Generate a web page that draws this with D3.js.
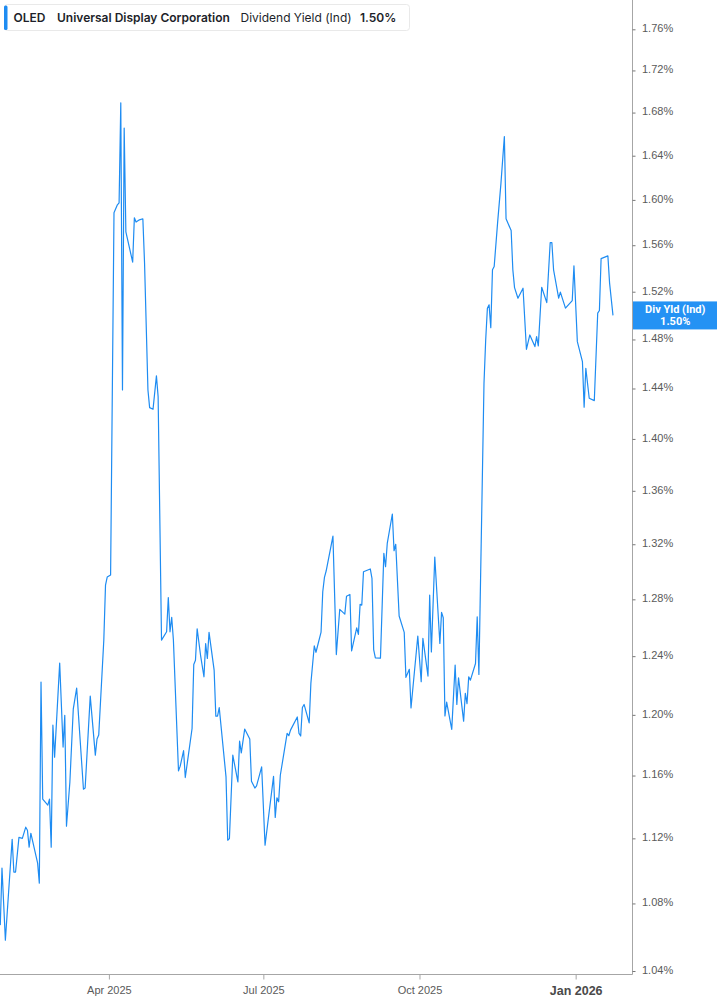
<!DOCTYPE html>
<html>
<head>
<meta charset="utf-8">
<script src="https://cdn.jsdelivr.net/npm/d3@7"></script>
<style>
  body { margin: 0; background: #fff; }
  svg { display: block; font-family: Roboto, "Noto Sans", sans-serif; }
  .legend-text { font-family: Inter, Roboto, sans-serif; }
</style>
</head>
<body>
<svg id="chart" width="717" height="1005"></svg>
<script>
// dividend yield (ind), %
const dates = [
  "2025-01-27","2025-01-28","2025-01-30","2025-02-03","2025-02-04","2025-02-05","2025-02-07","2025-02-09",
  "2025-02-11","2025-02-12","2025-02-13","2025-02-14","2025-02-18","2025-02-19","2025-02-20","2025-02-21",
  "2025-02-24","2025-02-25","2025-02-26","2025-02-27","2025-02-28","2025-03-03","2025-03-05","2025-03-06",
  "2025-03-07","2025-03-09","2025-03-11","2025-03-13","2025-03-17","2025-03-18","2025-03-21","2025-03-24",
  "2025-03-25","2025-03-26","2025-03-29","2025-03-30","2025-03-31","2025-04-02","2025-04-04","2025-04-06",
  "2025-04-07","2025-04-08","2025-04-09","2025-04-10","2025-04-11","2025-04-15","2025-04-16","2025-04-17",
  "2025-04-19","2025-04-21","2025-04-22","2025-04-24","2025-04-25","2025-04-27","2025-04-29","2025-04-30",
  "2025-05-02","2025-05-05","2025-05-06","2025-05-07","2025-05-08","2025-05-09","2025-05-12","2025-05-13",
  "2025-05-15","2025-05-16","2025-05-20","2025-05-21","2025-05-22","2025-05-23","2025-05-25","2025-05-27",
  "2025-05-28","2025-05-29","2025-05-30","2025-06-02","2025-06-03","2025-06-04","2025-06-05","2025-06-09",
  "2025-06-10","2025-06-11","2025-06-13","2025-06-16","2025-06-17","2025-06-18","2025-06-20","2025-06-23",
  "2025-06-24","2025-06-26","2025-06-27","2025-06-30","2025-07-02","2025-07-07","2025-07-08","2025-07-09",
  "2025-07-10","2025-07-11","2025-07-15","2025-07-16","2025-07-17","2025-07-21","2025-07-22","2025-07-23",
  "2025-07-24","2025-07-25","2025-07-28","2025-07-29","2025-07-31","2025-08-01","2025-08-04","2025-08-05",
  "2025-08-06","2025-08-07","2025-08-11","2025-08-13","2025-08-15","2025-08-18","2025-08-19","2025-08-21",
  "2025-08-22","2025-08-25","2025-08-26","2025-08-27","2025-08-28","2025-08-29","2025-09-02","2025-09-03",
  "2025-09-04","2025-09-05","2025-09-08","2025-09-10","2025-09-11","2025-09-12","2025-09-15","2025-09-16",
  "2025-09-17","2025-09-19","2025-09-22","2025-09-23","2025-09-25","2025-09-26","2025-09-30","2025-10-02",
  "2025-10-03","2025-10-06","2025-10-07","2025-10-08","2025-10-10","2025-10-13","2025-10-14","2025-10-15",
  "2025-10-16","2025-10-17","2025-10-20","2025-10-22","2025-10-23","2025-10-24","2025-10-27","2025-10-28",
  "2025-10-29","2025-10-30","2025-10-31","2025-11-03","2025-11-04","2025-11-05","2025-11-08","2025-11-09",
  "2025-11-10","2025-11-11","2025-11-12","2025-11-13","2025-11-14","2025-11-16","2025-11-18","2025-11-20",
  "2025-11-21","2025-11-24","2025-11-25","2025-11-26","2025-11-28","2025-12-01","2025-12-03","2025-12-05",
  "2025-12-08","2025-12-09","2025-12-10","2025-12-12","2025-12-15","2025-12-17","2025-12-18","2025-12-19",
  "2025-12-22","2025-12-23","2025-12-26","2025-12-30","2025-12-31","2026-01-02","2026-01-05","2026-01-06",
  "2026-01-07","2026-01-09","2026-01-12","2026-01-14","2026-01-15","2026-01-16","2026-01-20","2026-01-21",
  "2026-01-23"
];
const yields = [
  1.0670,1.1016,1.0581,1.1194,1.0991,1.0991,1.1206,1.1200,
  1.1270,1.1251,1.1145,1.1232,1.1046,1.0923,1.2222,1.1448,
  1.1410,1.1448,1.1145,1.1931,1.1720,1.2352,1.1786,1.1997,
  1.1276,1.1557,1.2038,1.2181,1.1512,1.1519,1.2126,1.1733,
  1.1839,1.1865,1.2512,1.2902,1.2960,1.2975,1.5885,1.5956,
  1.5973,1.6892,1.4388,1.6655,1.5717,1.5453,1.5841,1.5803,
  1.5823,1.5832,1.5445,1.4388,1.4247,1.4234,1.4502,1.4335,
  1.2512,1.2570,1.2813,1.2570,1.2672,1.2512,1.1630,1.1661,
  1.1762,1.1587,1.1909,1.2343,1.2372,1.2591,1.2406,1.2258,
  1.2488,1.2384,1.2566,1.2304,1.1991,1.1991,1.2049,1.1591,
  1.1188,1.1198,1.1733,1.1559,1.1826,1.1748,1.1905,1.1839,
  1.1563,1.1519,1.1533,1.1656,1.1157,1.1595,1.1332,1.1457,
  1.1431,1.1602,1.1876,1.1861,1.1898,1.1986,1.1876,1.1859,
  1.2049,1.2070,1.1946,1.2213,1.2471,1.2427,1.2568,1.2854,
  1.2958,1.3004,1.3260,1.2411,1.2728,1.2695,1.2822,1.2835,
  1.2436,1.2598,1.2552,1.2764,1.2759,1.2999,1.3019,1.2951,
  1.2446,1.2388,1.2386,1.3133,1.3035,1.3206,1.3425,1.3152,
  1.3200,1.2681,1.2566,1.2254,1.2309,1.2046,1.2540,1.2224,
  1.2524,1.2263,1.2830,1.2429,1.3106,1.2488,1.2707,1.2669,
  1.1993,1.2085,1.1903,1.2338,1.2070,1.2251,1.1958,1.2145,
  1.2076,1.2258,1.2235,1.2349,1.2676,1.2274,1.4442,1.4795,
  1.5061,1.5089,1.4898,1.5387,1.5415,1.5794,1.6151,1.6577,
  1.5832,1.5728,1.5387,1.5235,1.5145,1.5230,1.4719,1.4837,
  1.4741,1.4823,1.4746,1.5238,1.5108,1.5622,1.5622,1.5387,
  1.5145,1.5196,1.5061,1.5125,1.5421,1.4782,1.4618,1.4250,
  1.4564,1.4322,1.4303,1.5019,1.5041,1.5484,1.5507,1.5273,
  1.50
];
const yTicks = [1.04,1.08,1.12,1.16,1.20,1.24,1.28,1.32,1.36,1.40,1.44,1.48,1.52,1.56,1.60,1.64,1.68,1.72,1.76];
const lastValue = 1.50;

const W = 717, H = 1005;
const plotRight = 632.5, plotBottom = 974.5;
const lineColor = "#1e8cf2";

const parse = d3.utcParse("%Y-%m-%d");
const data = dates.map((d, i) => ({ date: parse(d), value: yields[i] }));

const svg = d3.select("#chart");

const x = d3.scaleUtc()
  .domain([new Date(Date.UTC(2025, 0, 26, 20)), new Date(Date.UTC(2026, 1, 3, 12))])
  .range([0, plotRight]);

const y = d3.scaleLog()
  .domain([1.04, 1.76])
  .range([971, 29.3]);

// clip so the line stays inside the plot
svg.append("clipPath").attr("id", "plot-clip")
  .append("rect").attr("x", 0).attr("y", 0).attr("width", plotRight).attr("height", plotBottom);

const line = d3.line()
  .x(d => x(d.date))
  .y(d => y(d.value));

svg.append("path")
  .datum(data)
  .attr("clip-path", "url(#plot-clip)")
  .attr("fill", "none")
  .attr("stroke", lineColor)
  .attr("stroke-width", 1.2)
  .attr("stroke-linejoin", "round")
  .attr("d", line);

// axis frame lines
svg.append("line")
  .attr("x1", plotRight).attr("x2", plotRight)
  .attr("y1", 0).attr("y2", plotBottom)
  .attr("stroke", "#a6a6a6").attr("stroke-width", 1);
svg.append("line")
  .attr("x1", 0).attr("x2", plotRight)
  .attr("y1", plotBottom).attr("y2", plotBottom)
  .attr("stroke", "#a6a6a6").attr("stroke-width", 1);

// right axis
const yAxis = svg.append("g")
  .attr("transform", `translate(${plotRight},0)`)
  .call(d3.axisRight(y)
    .tickValues(yTicks)
    .tickSize(3)
    .tickPadding(6.5)
    .tickFormat(d => d.toFixed(2) + "%"));
yAxis.select(".domain").remove();
yAxis.selectAll(".tick line").attr("stroke", "#777");
yAxis.selectAll(".tick text")
  .attr("dy", "0.22em")
  .attr("fill", "#5a5a5a")
  .style("font-size", "11px");

// bottom axis
const xAxis = svg.append("g")
  .attr("transform", `translate(0,${plotBottom})`)
  .call(d3.axisBottom(x)
    .ticks(d3.utcMonth.every(3))
    .tickSize(5)
    .tickPadding(7)
    .tickFormat(d3.utcFormat("%b %Y")));
xAxis.select(".domain").remove();
xAxis.selectAll(".tick line").attr("stroke", "#a6a6a6");
xAxis.selectAll(".tick text")
  .attr("fill", "#5a5a5a")
  .style("font-size", "11px")
  .filter(d => d.getUTCMonth() === 0)
  .attr("fill", "#4a4a4a")
  .style("font-size", "12.5px")
  .style("font-weight", "bold");

// last value tag
const tagY = y(lastValue);
const tag = svg.append("g").attr("transform", `translate(${plotRight + 0.5},${tagY})`);
tag.append("rect")
  .attr("x", 0).attr("y", -14)
  .attr("width", W - plotRight).attr("height", 28)
  .attr("fill", "#2492f4");
tag.append("text")
  .attr("x", (W - plotRight) / 2).attr("y", -2.5)
  .attr("text-anchor", "middle")
  .attr("fill", "#fff").style("font-size", "11px").style("font-weight", "bold")
  .text("Div Yld (Ind)");
tag.append("text")
  .attr("x", (W - plotRight) / 2).attr("y", 10)
  .attr("text-anchor", "middle")
  .attr("fill", "#fff").style("font-size", "11px").style("font-weight", "bold")
  .text(lastValue.toFixed(2) + "%");

// legend
const legend = svg.append("g");
legend.append("rect")
  .attr("x", 4.5).attr("y", 4.5)
  .attr("width", 405).attr("height", 26).attr("rx", 3)
  .attr("fill", "#fff").attr("stroke", "#e9e9e9");
legend.append("rect")
  .attr("x", 4).attr("y", 5.5)
  .attr("width", 3.5).attr("height", 24.5).attr("rx", 1.5)
  .attr("fill", lineColor);

const legendText = legend.append("text")
  .attr("class", "legend-text")
  .attr("y", 21.5)
  .attr("fill", "#1d1f2a")
  .style("font-size", "12px");
legendText.append("tspan").attr("x", 13.5).style("font-weight", 600).text("OLED");
legendText.append("tspan").attr("x", 57).style("font-weight", 600).text("Universal Display Corporation");
legendText.append("tspan").attr("x", 240.5).text("Dividend Yield (Ind)");
legendText.append("tspan").attr("x", 360).style("font-weight", 600).text(lastValue.toFixed(2) + "%");
</script>
</body>
</html>
